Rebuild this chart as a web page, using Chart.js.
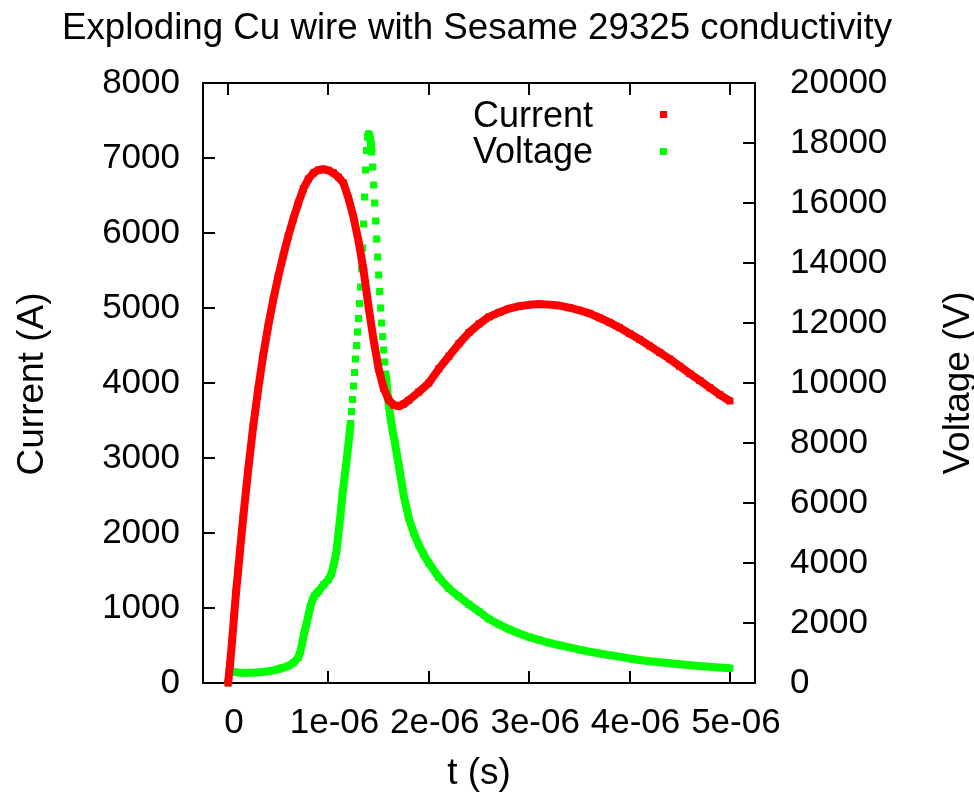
<!DOCTYPE html>
<html>
<head>
<meta charset="utf-8">
<script src="https://cdn.jsdelivr.net/npm/chart.js@4.4.1/dist/chart.umd.min.js"></script>
<style>
html,body{margin:0;padding:0;background:#fff;}
#wrap{width:974px;height:795px;position:relative;}
canvas{display:block;}
</style>
</head>
<body>
<div id="wrap"><canvas id="c" width="974" height="795"></canvas></div>
<script>
// ---- text ----
const titleText = 'Exploding Cu wire with Sesame 29325 conductivity';
const xAxisTitle = 't (s)';
const yAxisTitle = 'Current (A)';
const y2AxisTitle = 'Voltage (V)';
const seriesNames = ['Current', 'Voltage'];

// ---- ticks ----
const xTickValues = [0, 1e-6, 2e-6, 3e-6, 4e-6, 5e-6];
const xTickLabels = ['0', '1e-06', '2e-06', '3e-06', '4e-06', '5e-06'];
const yTickValues = [0, 1000, 2000, 3000, 4000, 5000, 6000, 7000, 8000];
const yTickLabels = ['0', '1000', '2000', '3000', '4000', '5000', '6000', '7000', '8000'];
const y2TickValues = [0, 2000, 4000, 6000, 8000, 10000, 12000, 14000, 16000, 18000, 20000];
const y2TickLabels = ['0', '2000', '4000', '6000', '8000', '10000', '12000', '14000', '16000', '18000', '20000'];

// ---- data (time in microseconds) ----
const currentTimesUs = [0,0.02,0.04,0.06,0.08,0.10,0.12,0.15,0.20,0.25,0.30,0.35,0.40,0.45,0.50,0.55,0.60,0.65,0.70,0.75,0.80,0.85,0.90,0.95,1.00,1.05,1.10,1.15,1.20,1.25,1.30,1.35,1.40,1.45,1.50,1.55,1.60,1.65,1.70,1.75,1.80,1.90,2.0,2.1,2.2,2.3,2.4,2.5,2.6,2.7,2.8,2.9,3.0,3.1,3.2,3.3,3.4,3.5,3.6,3.7,3.8,3.9,4.0,4.1,4.2,4.3,4.4,4.5,4.6,4.7,4.8,4.9,5.0];
const currentAmps = [0,260,560,900,1220,1500,1780,2200,2840,3420,3920,4370,4760,5110,5420,5700,5960,6190,6400,6590,6720,6800,6840,6850,6835,6800,6745,6665,6460,6210,5890,5500,5010,4570,4190,3930,3775,3705,3690,3720,3770,3880,4000,4190,4357,4524,4672,4787,4882,4941,4992,5024,5042,5053,5045,5032,5005,4970,4929,4870,4808,4738,4660,4581,4494,4408,4320,4222,4126,4032,3938,3843,3760];

const voltageTimesUs = [0,0.01,0.05,0.10,0.15,0.20,0.25,0.30,0.35,0.40,0.45,0.50,0.55,0.60,0.65,0.70,0.72,0.74,0.76,0.78,0.80,0.82,0.84,0.86,0.88,0.90,0.95,1.00,1.03,1.06,1.08,
  1.10,1.11,1.12,1.13,1.14,1.15,1.16,1.17,1.18,1.19,1.20,1.21,1.22,1.23,1.24,1.25,1.26,1.27,1.28,1.29,1.30,1.31,1.32,1.33,1.34,1.35,1.36,1.37,1.38,1.39,
  1.40,1.41,1.42,1.43,1.44,1.45,1.46,1.47,1.48,1.49,1.50,1.51,1.52,1.53,1.54,1.55,1.56,1.57,1.58,1.59,1.60,1.62,1.64,1.66,1.68,1.70,1.75,1.80,1.85,1.90,1.95,
  2.0,2.1,2.2,2.3,2.4,2.5,2.6,2.7,2.8,2.9,3.0,3.1,3.2,3.3,3.4,3.5,3.6,3.7,3.8,3.9,4.0,4.1,4.2,4.3,4.4,4.5,4.6,4.7,4.8,4.9,5.0];
const voltageVolts = [0,400,370,350,340,340,345,355,370,390,420,460,510,570,670,850,1050,1350,1700,1950,2250,2550,2750,2900,2980,3050,3270,3450,3650,4050,4400,
  5000,5300,5600,5950,6300,6580,6850,7120,7400,7700,8000,8300,8650,9050,9450,9900,10350,10800,11250,11700,12150,12650,13200,13800,14500,15300,16200,17100,17750,18200,
  18300,18250,18050,17700,17200,16600,16000,15400,14800,14200,13600,13050,12500,12000,11550,11100,10700,10300,9950,9600,9300,8800,8400,8050,7650,7250,6250,5500,5000,4600,4280,
  4000,3520,3150,2880,2620,2380,2130,1950,1790,1650,1530,1433,1340,1260,1185,1110,1044,985,930,878,815,765,725,690,655,625,595,565,540,515,490];

// ---- build ----
const FONT = 'Liberation Sans, Arial, Helvetica, sans-serif';
const RED = '#ff0000', GREEN = '#00ff00';
const toPts = (ts, vs) => ts.map((t, i) => ({x: t * 1e-6, y: vs[i]}));

const decor = {
  id: 'decor',
  beforeDatasetsDraw(chart) {
    const {ctx, chartArea: a, scales} = chart;
    ctx.save();
    ctx.strokeStyle = '#000';
    ctx.lineWidth = 2;
    ctx.strokeRect(a.left, a.top, a.right - a.left, a.bottom - a.top);
    ctx.beginPath();
    const L = 12;
    xTickValues.forEach(v => {
      const px = Math.round(scales.x.getPixelForValue(v));
      ctx.moveTo(px, a.bottom); ctx.lineTo(px, a.bottom - L);
      ctx.moveTo(px, a.top); ctx.lineTo(px, a.top + L);
    });
    yTickValues.forEach(v => {
      const py = Math.round(scales.y.getPixelForValue(v));
      ctx.moveTo(a.left, py); ctx.lineTo(a.left + L, py);
    });
    y2TickValues.forEach(v => {
      const py = Math.round(scales.y2.getPixelForValue(v));
      ctx.moveTo(a.right, py); ctx.lineTo(a.right - L, py);
    });
    ctx.stroke();
    ctx.restore();
  },
  afterDraw(chart) {
    const {ctx} = chart;
    ctx.save();
    ctx.fillStyle = '#000';
    ctx.textBaseline = 'alphabetic';
    ctx.font = '36.7px ' + FONT;
    ctx.textAlign = 'center';
    ctx.fillText(titleText, 477, 39);
    ctx.font = '37px ' + FONT;
    ctx.fillText(xAxisTitle, 479, 784);
    ctx.save();
    ctx.translate(43, 384); ctx.rotate(-Math.PI / 2);
    ctx.fillText(yAxisTitle, 0, 0);
    ctx.restore();
    ctx.save();
    ctx.translate(969, 383); ctx.rotate(-Math.PI / 2);
    ctx.fillText(y2AxisTitle, 0, 0);
    ctx.restore();
    ctx.font = '36px ' + FONT;
    ctx.textAlign = 'right';
    ctx.fillText(seriesNames[0], 593, 127);
    ctx.fillText(seriesNames[1], 593, 163);
    ctx.fillStyle = RED; ctx.fillRect(660, 111, 7, 7);
    ctx.fillStyle = GREEN; ctx.fillRect(660, 148, 7, 7);
    ctx.restore();
  }
};

const tickFont = {family: FONT, size: 35};

new Chart(document.getElementById('c'), {
  type: 'line',
  data: {
    datasets: [
      {
        label: seriesNames[0],
        data: toPts(currentTimesUs, currentAmps),
        yAxisID: 'y',
        borderColor: RED,
        backgroundColor: RED,
        borderWidth: 8,
        borderJoinStyle: 'round',
        pointStyle: 'rect',
        pointRadius: 5,
        pointBorderWidth: 0,
        pointBackgroundColor: RED,
        tension: 0,
        clip: false
      },
      {
        label: seriesNames[1],
        data: toPts(voltageTimesUs, voltageVolts),
        yAxisID: 'y2',
        borderColor: GREEN,
        backgroundColor: GREEN,
        borderWidth: 8,
        borderJoinStyle: 'round',
        pointStyle: 'rect',
        pointRadius: 5,
        pointBorderWidth: 0,
        pointBackgroundColor: GREEN,
        tension: 0,
        clip: false,
        segment: {
          borderColor: c => {
            const dt = voltageTimesUs[c.p1DataIndex] - voltageTimesUs[c.p0DataIndex];
            return (dt < 0.0105 && Math.abs(c.p1.y - c.p0.y) > 11) ? 'rgba(0,0,0,0)' : GREEN;
          }
        }
      }
    ]
  },
  options: {
    responsive: false,
    animation: false,
    devicePixelRatio: 1,
    events: [],
    layout: {padding: {top: 83, left: 0, right: 0, bottom: 0}},
    plugins: {legend: {display: false}, title: {display: false}, tooltip: {enabled: false}},
    scales: {
      x: {
        type: 'linear', position: 'bottom',
        min: -0.25e-6, max: 5.25e-6,
        grid: {display: false, drawTicks: false},
        border: {display: false},
        afterBuildTicks: s => { s.ticks = xTickValues.map(v => ({value: v})); },
        afterFit: s => { s.height = 112; },
        ticks: {
          autoSkip: false, maxRotation: 0, minRotation: 0,
          font: tickFont, color: '#000', padding: 19, labelOffset: 6,
          callback: (v, i) => xTickLabels[i]
        }
      },
      y: {
        type: 'linear', position: 'left',
        min: 0, max: 8000,
        grid: {display: false, drawTicks: false},
        border: {display: false},
        afterBuildTicks: s => { s.ticks = yTickValues.map(v => ({value: v})); },
        afterFit: s => { s.width = 203; },
        ticks: {
          autoSkip: false, font: tickFont, color: '#000', padding: 23,
          callback: (v, i) => yTickLabels[i]
        }
      },
      y2: {
        type: 'linear', position: 'right',
        min: 0, max: 20000,
        grid: {display: false, drawTicks: false},
        border: {display: false},
        afterBuildTicks: s => { s.ticks = y2TickValues.map(v => ({value: v})); },
        afterFit: s => { s.width = 219; },
        ticks: {
          autoSkip: false, font: tickFont, color: '#000', padding: 35,
          callback: (v, i) => y2TickLabels[i]
        }
      }
    }
  },
  plugins: [decor]
});
</script>
</body>
</html>
